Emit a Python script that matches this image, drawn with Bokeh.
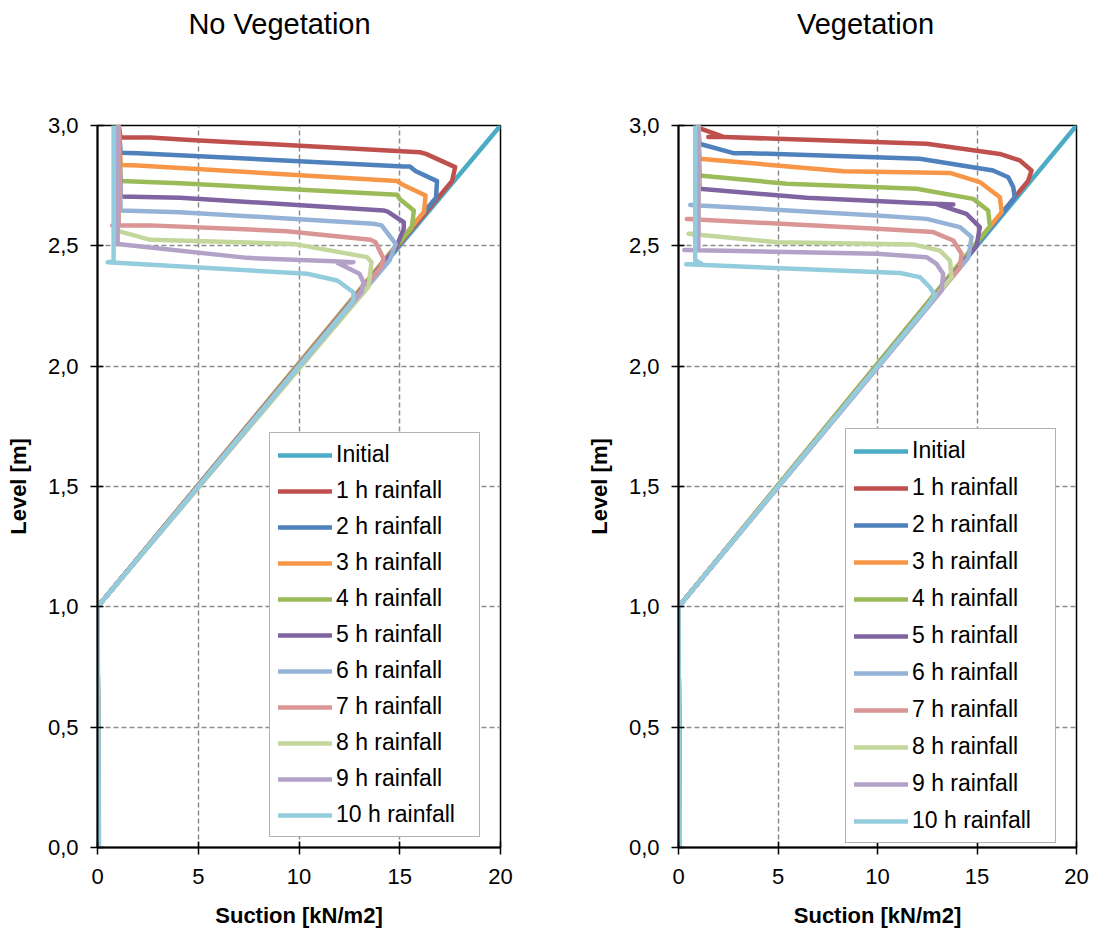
from bokeh.plotting import figure
from bokeh.layouts import row, column
from bokeh.models import (Range1d, FixedTicker, CustomJSTickFormatter, Legend, LegendItem)
from bokeh.core.properties import value
from bokeh.embed import file_html
from bokeh.resources import INLINE

FONT = "Liberation Sans"

panel_titles = ["No Vegetation", "Vegetation"]
x_ticks = [0, 5, 10, 15, 20]
y_ticks = [0.0, 0.5, 1.0, 1.5, 2.0, 2.5, 3.0]

series_names = ["Initial", "1 h rainfall", "2 h rainfall", "3 h rainfall", "4 h rainfall",
                "5 h rainfall", "6 h rainfall", "7 h rainfall", "8 h rainfall",
                "9 h rainfall", "10 h rainfall"]
series_colors = ["#4BACC6", "#C0504D", "#4F81BD", "#F79646", "#9BBB59", "#8064A2",
                 "#95B3D7", "#D99694", "#C3D69B", "#B3A2C7", "#93CDDD"]

# Initial profile (same in both panels)
init_s = [0.05, 0.0, 20.0]
init_lvl = [0.0, 1.0, 3.0]

# ---------------- No Vegetation ----------------
nv_1h_s = [1.05, 1.15, 2.6, 4.6, 16.0, 16.3, 17.75, 17.6, 0.0, 0.05]
nv_1h_lvl = [3.0, 2.95, 2.95, 2.94, 2.889, 2.882, 2.827, 2.77, 1.0, 0.0]
nv_2h_s = [1.05, 1.15, 2.0, 15.2, 15.5, 15.8, 16.85, 16.8, 0.0, 0.05]
nv_2h_lvl = [3.0, 2.887, 2.885, 2.830, 2.830, 2.81, 2.769, 2.70, 1.0, 0.0]
nv_3h_s = [1.05, 1.15, 2.0, 14.87, 15.1, 16.28, 16.2, 0.0, 0.05]
nv_3h_lvl = [3.0, 2.836, 2.834, 2.769, 2.756, 2.709, 2.64, 1.0, 0.0]
nv_4h_s = [1.05, 1.15, 4.1, 14.87, 15.0, 15.7, 15.6, 0.0, 0.05]
nv_4h_lvl = [3.0, 2.769, 2.760, 2.712, 2.695, 2.647, 2.575, 1.0, 0.0]
nv_5h_s = [1.05, 1.15, 4.1, 14.2, 14.4, 15.2, 15.2, 14.8, 0.0, 0.05]
nv_5h_lvl = [3.0, 2.705, 2.700, 2.647, 2.642, 2.598, 2.571, 2.49, 1.0, 0.0]
nv_6h_s = [1.05, 1.15, 4.1, 13.7, 14.1, 14.8, 14.5, 0.0, 0.05]
nv_6h_lvl = [3.0, 2.647, 2.640, 2.592, 2.585, 2.508, 2.44, 1.0, 0.0]
nv_7h_s = [1.05, 1.05, 0.73, 2.6, 9.4, 13.55, 13.8, 14.2, 14.05, 0.0, 0.05]
nv_7h_lvl = [3.0, 2.59, 2.585, 2.585, 2.561, 2.525, 2.515, 2.446, 2.41, 1.0, 0.0]
nv_8h_s = [1.0, 0.9, 2.63, 9.74, 13.38, 13.6, 13.45, 0.0, 0.05]
nv_8h_lvl = [3.0, 2.564, 2.525, 2.508, 2.453, 2.432, 2.33, 1.0, 0.0]
nv_9h_s = [1.0, 1.0, 7.43, 11.73, 12.7, 11.9, 13.0, 13.2, 13.1, 0.0, 0.05]
nv_9h_lvl = [3.0, 2.508, 2.45, 2.436, 2.432, 2.43, 2.384, 2.349, 2.307, 1.0, 0.0]
nv_10h_s = [0.8, 0.8, 0.5, 10.4, 11.9, 12.7, 12.7, 12.45, 0.0, 0.08]
nv_10h_lvl = [3.0, 2.435, 2.432, 2.384, 2.356, 2.307, 2.273, 2.245, 1.0, 0.0]

# ---------------- Vegetation ----------------
v_1h_s = [0.95, 1.0, 2.2, 1.5, 2.3, 12.47, 16.15, 17.15, 17.74, 17.57, 0.0, 0.05]
v_1h_lvl = [3.0, 2.99, 2.955, 2.952, 2.952, 2.924, 2.882, 2.855, 2.813, 2.77, 1.0, 0.0]
v_2h_s = [1.0, 1.05, 2.76, 3.6, 12.13, 15.81, 16.57, 16.82, 16.9, 0.0, 0.05]
v_2h_lvl = [3.0, 2.924, 2.885, 2.885, 2.862, 2.813, 2.785, 2.744, 2.70, 1.0, 0.0]
v_3h_s = [1.0, 1.05, 8.28, 13.64, 15.14, 16.15, 16.24, 0.0, 0.05]
v_3h_lvl = [3.0, 2.862, 2.81, 2.803, 2.765, 2.702, 2.64, 1.0, 0.0]
v_4h_s = [1.0, 1.05, 5.44, 11.97, 14.81, 15.56, 15.65, 0.0, 0.05]
v_4h_lvl = [3.0, 2.792, 2.758, 2.737, 2.695, 2.647, 2.58, 1.0, 0.0]
v_5h_s = [1.0, 1.05, 6.44, 12.8, 13.81, 13.0, 14.47, 15.14, 14.98, 0.0, 0.05]
v_5h_lvl = [3.0, 2.737, 2.70, 2.675, 2.672, 2.672, 2.633, 2.578, 2.50, 1.0, 0.0]
v_6h_s = [1.0, 1.0, 0.59, 9.96, 12.47, 14.14, 14.73, 14.56, 0.0, 0.05]
v_6h_lvl = [3.0, 2.67, 2.67, 2.626, 2.612, 2.578, 2.536, 2.45, 1.0, 0.0]
v_7h_s = [1.0, 1.0, 0.42, 9.96, 12.8, 13.81, 14.22, 14.14, 0.0, 0.05]
v_7h_lvl = [3.0, 2.612, 2.612, 2.571, 2.557, 2.522, 2.467, 2.41, 1.0, 0.0]
v_8h_s = [1.0, 1.0, 0.5, 4.94, 11.8, 13.14, 13.64, 13.72, 0.0, 0.05]
v_8h_lvl = [3.0, 2.55, 2.55, 2.515, 2.506, 2.48, 2.439, 2.37, 1.0, 0.0]
v_9h_s = [1.0, 1.0, 0.29, 9.96, 12.47, 12.97, 13.3, 13.22, 0.0, 0.05]
v_9h_lvl = [3.0, 2.483, 2.483, 2.467, 2.453, 2.425, 2.384, 2.314, 1.0, 0.0]
v_10h_s = [0.84, 0.84, 1.17, 0.39, 11.13, 12.13, 12.63, 12.89, 12.45, 0.0, 0.05]
v_10h_lvl = [3.0, 2.44, 2.425, 2.423, 2.387, 2.370, 2.328, 2.293, 2.245, 1.0, 0.0]

nv_series = [(init_s, init_lvl), (nv_1h_s, nv_1h_lvl), (nv_2h_s, nv_2h_lvl), (nv_3h_s, nv_3h_lvl),
             (nv_4h_s, nv_4h_lvl), (nv_5h_s, nv_5h_lvl), (nv_6h_s, nv_6h_lvl), (nv_7h_s, nv_7h_lvl),
             (nv_8h_s, nv_8h_lvl), (nv_9h_s, nv_9h_lvl), (nv_10h_s, nv_10h_lvl)]
v_series = [(init_s, init_lvl), (v_1h_s, v_1h_lvl), (v_2h_s, v_2h_lvl), (v_3h_s, v_3h_lvl),
            (v_4h_s, v_4h_lvl), (v_5h_s, v_5h_lvl), (v_6h_s, v_6h_lvl), (v_7h_s, v_7h_lvl),
            (v_8h_s, v_8h_lvl), (v_9h_s, v_9h_lvl), (v_10h_s, v_10h_lvl)]

TITLE_H = 50


def make_title(text, center_x):
    # a bare strip holding the panel title as real text
    t = figure(frame_width=547, frame_height=TITLE_H, min_border=0,
               x_range=Range1d(0, 547), y_range=Range1d(0, TITLE_H),
               output_backend="svg", toolbar_location=None)
    t.axis.visible = False
    t.grid.visible = False
    t.outline_line_color = None
    t.text(x=[center_x], y=[TITLE_H - 23], text=[text], text_align="center",
           text_baseline="middle", text_font=value(FONT), text_font_size="29px",
           text_color="black")
    return t


def make_panel(series, frame_w, border_l, border_r, legend_loc, legend_spacing):
    p = figure(frame_width=frame_w, frame_height=722,
               min_border_left=border_l, min_border_right=border_r,
               min_border_top=125 - TITLE_H, min_border_bottom=82,
               x_range=Range1d(0, 20), y_range=Range1d(0, 3),
               output_backend="svg", toolbar_location=None,
               background_fill_color="white", border_fill_color="white")
    p.outline_line_color = "black"
    p.outline_line_width = 1.5

    fmt = CustomJSTickFormatter(code="return tick.toFixed(1).replace('.', ',');")
    p.xaxis.ticker = FixedTicker(ticks=x_ticks)
    p.yaxis.ticker = FixedTicker(ticks=y_ticks)
    p.yaxis.formatter = fmt
    for ax in (p.xaxis[0], p.yaxis[0]):
        ax.axis_line_color = "black"
        ax.axis_line_width = 2
        ax.major_tick_line_color = "black"
        ax.major_tick_line_width = 1.5
        ax.major_tick_in = 6
        ax.major_tick_out = 7
        ax.minor_tick_line_color = None
        ax.major_label_text_font = FONT
        ax.major_label_text_font_size = "22px"
        ax.major_label_text_color = "black"
        ax.axis_label_text_font = FONT
        ax.axis_label_text_font_size = "22px"
        ax.axis_label_text_font_style = "bold"
        ax.axis_label_text_color = "black"
    p.xaxis.axis_label = "Suction [kN/m2]"
    p.yaxis.axis_label = "Level [m]"
    p.yaxis.major_label_standoff = 12
    p.xaxis.major_label_standoff = 14
    p.yaxis.axis_label_standoff = 14
    p.xaxis.axis_label_standoff = 16

    for g in (p.xgrid[0], p.ygrid[0]):
        g.grid_line_color = "#8c8c8c"
        g.grid_line_dash = "5 3"
        g.grid_line_width = 1.5

    items = []
    for (xs, ys), name, col in zip(series, series_names, series_colors):
        r = p.line(xs, ys, line_color=col, line_width=4.5, line_cap="round", line_join="round")
        items.append(LegendItem(label=name, renderers=[r]))

    legend = Legend(items=items, location=legend_loc,
                    label_text_font=FONT, label_text_font_size="23px", label_text_color="black",
                    glyph_width=54, glyph_height=20, label_height=20, label_width=135,
                    label_standoff=4, spacing=legend_spacing, padding=8, margin=0,
                    border_line_color="#666666", border_line_width=1,
                    background_fill_color="white", background_fill_alpha=1.0)
    p.add_layout(legend)
    return p


t1 = make_title(panel_titles[0], 279)
t2 = make_title(panel_titles[1], 318)
p1 = make_panel(nv_series, 403, 97, 47, (172, 10), 9)
p2 = make_panel(v_series, 398, 131, 18, (167, 4), 10)

layout = column(row(t1, t2, spacing=0), row(p1, p2, spacing=0), spacing=0)
open("out.html", "w").write(file_html(layout, INLINE))
